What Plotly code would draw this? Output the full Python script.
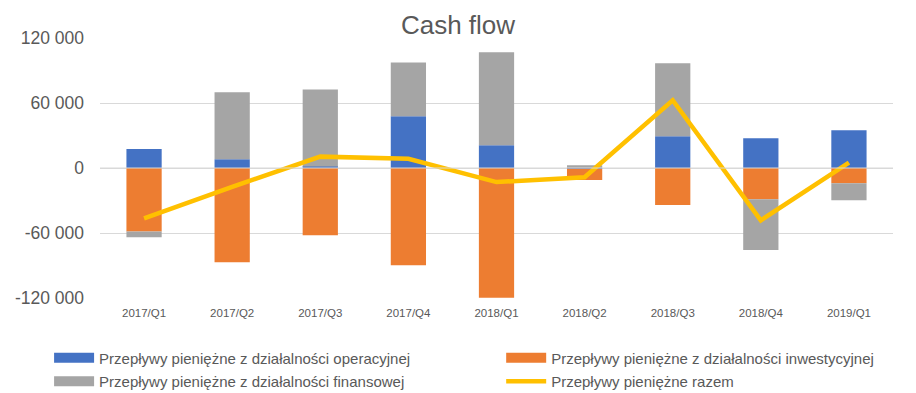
import plotly.graph_objects as go

categories = ["2017/Q1", "2017/Q2", "2017/Q3", "2017/Q4", "2018/Q1",
              "2018/Q2", "2018/Q3", "2018/Q4", "2019/Q1"]
operacyjne = [17500, 8000, 1500, 47700, 20900, -800, 29200, 27400, 34800]
inwestycyjne = [-58500, -87000, -62000, -89800, -119800, -10200, -34100, -28900, -14100]
finansowe = [-5500, 61900, 71000, 49800, 85900, 2500, 67400, -46800, -15700]
razem = [-46500, -17400, 10500, 8500, -13000, -8500, 62500, -48300, 5000]

names = ["Przepływy pieniężne z działalności operacyjnej",
         "Przepływy pieniężne z działalności inwestycyjnej",
         "Przepływy pieniężne z działalności finansowej",
         "Przepływy pieniężne razem"]
y_tickvals = [-120000, -60000, 0, 60000, 120000]
y_ticktext = ["-120 000", "-60 000", "0", "60 000", "120 000"]

FONT = "Liberation Sans, Arial, sans-serif"
TXT = "#595959"
C_OP, C_INV, C_FIN, C_TOT = "#4472C4", "#ED7D31", "#A5A5A5", "#FFC000"

fig = go.Figure()
fig.add_trace(go.Bar(x=categories, y=operacyjne, name=names[0], marker_color=C_OP,
                     marker_line_width=0, showlegend=False))
fig.add_trace(go.Bar(x=categories, y=inwestycyjne, name=names[1], marker_color=C_INV,
                     marker_line_width=0, showlegend=False))
fig.add_trace(go.Bar(x=categories, y=finansowe, name=names[2], marker_color=C_FIN,
                     marker_line_width=0, showlegend=False))
fig.add_trace(go.Scatter(x=categories, y=razem, name=names[3], mode="lines",
                         line=dict(color=C_TOT, width=4.5), showlegend=False))

# legend-only entries (wide rectangular swatches like the original)
legend_specs = [(names[0], C_OP, 10, "legend", "a"),
                (names[2], C_FIN, 10, "legend", "c"),
                (names[1], C_INV, 10, "legend2", "b"),
                (names[3], C_TOT, 4.5, "legend2", "d")]
for nm, col, w, leg, grp in legend_specs:
    fig.add_trace(go.Scatter(x=[None], y=[None], name=nm, mode="lines",
                             line=dict(color=col, width=w), legend=leg,
                             legendgroup=grp, hoverinfo="skip"))

fig.add_shape(type="line", xref="paper", yref="y", x0=0, x1=1, y0=0, y1=0,
              line=dict(color="#D9D9D9", width=1), layer="above")

leg_common = dict(orientation="v", y=-0.3825, yanchor="bottom", xanchor="left",
                  font=dict(size=15, color=TXT, family=FONT), itemwidth=40,
                  traceorder="grouped", tracegroupgap=1, bgcolor="rgba(0,0,0,0)")

fig.update_layout(
    width=916, height=393,
    margin=dict(l=100, r=23, t=38, b=95, autoexpand=False),
    paper_bgcolor="white", plot_bgcolor="white",
    barmode="relative", bargap=0.6,
    font=dict(family=FONT, color=TXT),
    title=dict(text="Cash flow", xref="container", x=0.5, xanchor="center",
               yref="container", y=0.936, yanchor="middle",
               font=dict(size=26, color=TXT, family=FONT)),
    showlegend=True,
    legend=dict(x=-0.0642, **leg_common),
    legend2=dict(x=0.5059, **leg_common),
    xaxis=dict(showgrid=False, showline=False, zeroline=False, ticks="",
               automargin=False, ticklabelstandoff=6,
               tickfont=dict(size=11.5, color=TXT, family=FONT)),
    yaxis=dict(range=[-120000, 120000], tickvals=y_tickvals, ticktext=y_ticktext,
               showgrid=True, gridcolor="#D9D9D9", gridwidth=1,
               zeroline=False, showline=False, ticks="", automargin=False,
               ticklabelstandoff=15,
               tickfont=dict(size=17.5, color=TXT, family=FONT)),
)

fig.write_html("out.html", config={"displayModeBar": False},
               post_script="document.body.style.margin='0';")
